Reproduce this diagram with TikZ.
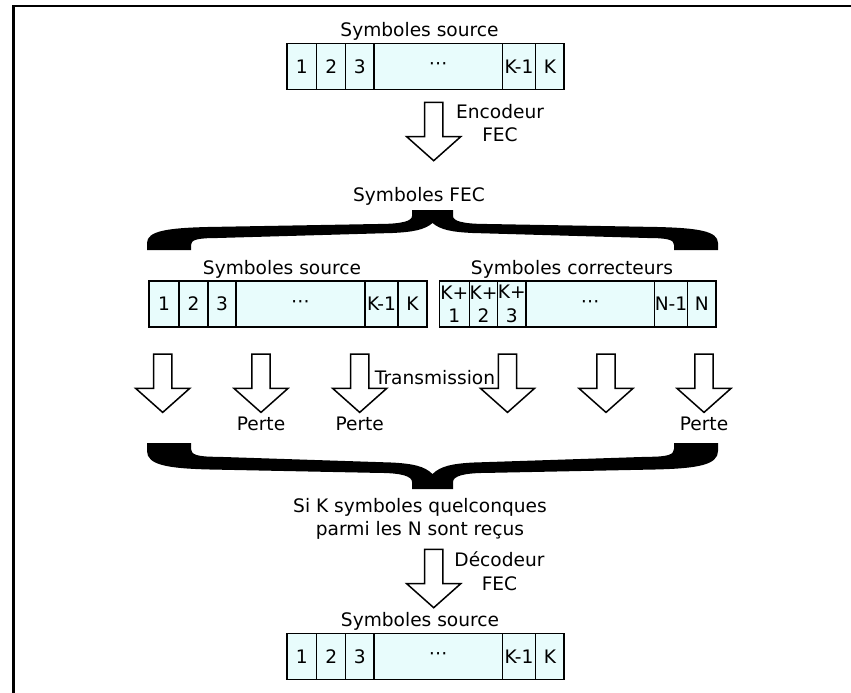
\documentclass[tikz,border=0pt]{standalone}
\usepackage{fontspec}
\setmainfont{DejaVu Sans}
\definecolor{cellfill}{RGB}{232,252,252}
\tikzset{cell/.style = {draw, fill=cellfill, line width=1.4, minimum height=46, inner sep=0, align=center}}
\tikzset{lbl/.style = {inner sep=0, align=center}}
\tikzset{blockarrow/.pic = {
  \filldraw[fill=white, line width=1.5] (-9.2,0) -- (9.2,0) -- (9.2,34.4) -- (27,34.4)
    -- (0,58.4) -- (-27,34.4) -- (-9.2,34.4) -- cycle;}}
\tikzset{fecbrace/.pic = {
  \fill (-20.5,0) -- (20.5,0) -- (20.5,6) .. controls (20.5,11) and (30,14) .. (55,14)
    -- (225,17) .. controls (265,18) and (285.5,21) .. (285.5,33) -- (285.5,40)
    -- (241.5,40) -- (241.5,35) .. controls (241.5,30) and (236,28) .. (215,28)
    -- (40,23) .. controls (20,22) and (8,20) .. (0,13)
    .. controls (-8,20) and (-20,22) .. (-40,23) -- (-215,28)
    .. controls (-236,28) and (-241.5,30) .. (-241.5,35) -- (-241.5,40)
    -- (-285.5,40) -- (-285.5,33) .. controls (-285.5,21) and (-265,18) .. (-225,17)
    -- (-55,14) .. controls (-30,14) and (-20.5,11) .. (-20.5,6) -- cycle;}}

\begin{document}
\begin{tikzpicture}[x=1pt, y=-1pt, font=\fontsize{18.6}{23.5}\selectfont]
\useasboundingbox (0,0) rectangle (851,693);
% frame
\draw[line width=2.4] (851,6.2) -- (13.3,6.2) -- (13.3,693);

% source block
\node[lbl, anchor=base] (srclbl) at (419.5,36.7) {Symboles source};
\foreach \l/\r/\t [count=\i] in {287/316.7/1, 316.7/345.7/2, 345.7/374/3, 374/502.3/⋯, 502.3/535.7/K-1, 535.7/564/K}
  \node[cell, minimum width=\r-\l] (s\i) at ({(\l+\r)/2},66.3) {\t};

% encoder
\pic at (433.7,102.3) {blockarrow};
\node[lbl] (enc) at (500,123) {Encodeur\\FEC};

\node[lbl, anchor=base] (feclbl) at (419,201) {Symboles FEC};
\pic at (432.5,210) {fecbrace};

% source + repair symbols
\node[lbl, anchor=base] (mlbl) at (282,274) {Symboles source};
\node[lbl, anchor=base] (clbl) at (572,274) {Symboles correcteurs};
\foreach \l/\r/\t [count=\i] in {149/179/1, 179/208/2, 208/236/3, 236/365/⋯, 365/398/K-1, 398/427/K}
  \node[cell, minimum width=\r-\l] (m\i) at ({(\l+\r)/2},304) {\t};
\foreach \l/\r/\t [count=\i] in {439.3/469.3/{K+\\1}, 469.3/497.7/{K+\\2}, 497.7/526/{K+\\3}, 526/654.3/⋯, 654.3/687.7/N-1, 687.7/716/N}
  \node[cell, minimum width=\r-\l] (c\i) at ({(\l+\r)/2},304) {\t};

% channel
\foreach \x in {162.7, 261, 359.7, 507.5, 606, 704}
  \pic at (\x,354) {blockarrow};
\node[lbl, anchor=base] (trans) at (435,384) {Transmission};
\node[lbl, anchor=base] (p1) at (261,430) {Perte};
\node[lbl, anchor=base] (p2) at (359.7,430) {Perte};
\node[lbl, anchor=base] (p3) at (704,430) {Perte};

\pic[yscale=-1.15] at (432.5,489) {fecbrace};
\node[lbl] (cond) at (420,519) {Si K symboles quelconques\\parmi les N sont reçus};

% decoder
\pic at (433.7,549.3) {blockarrow};
\node[lbl] (dec) at (499.5,571) {Décodeur\\FEC};

\node[lbl, anchor=base] (outlbl) at (420,626) {Symboles source};
\foreach \l/\r/\t [count=\i] in {287/316.7/1, 316.7/345.7/2, 345.7/374/3, 374/502.3/⋯, 502.3/535.7/K-1, 535.7/564/K}
  \node[cell, minimum width=\r-\l] (r\i) at ({(\l+\r)/2},656.3) {\t};
\end{tikzpicture}
\end{document}
